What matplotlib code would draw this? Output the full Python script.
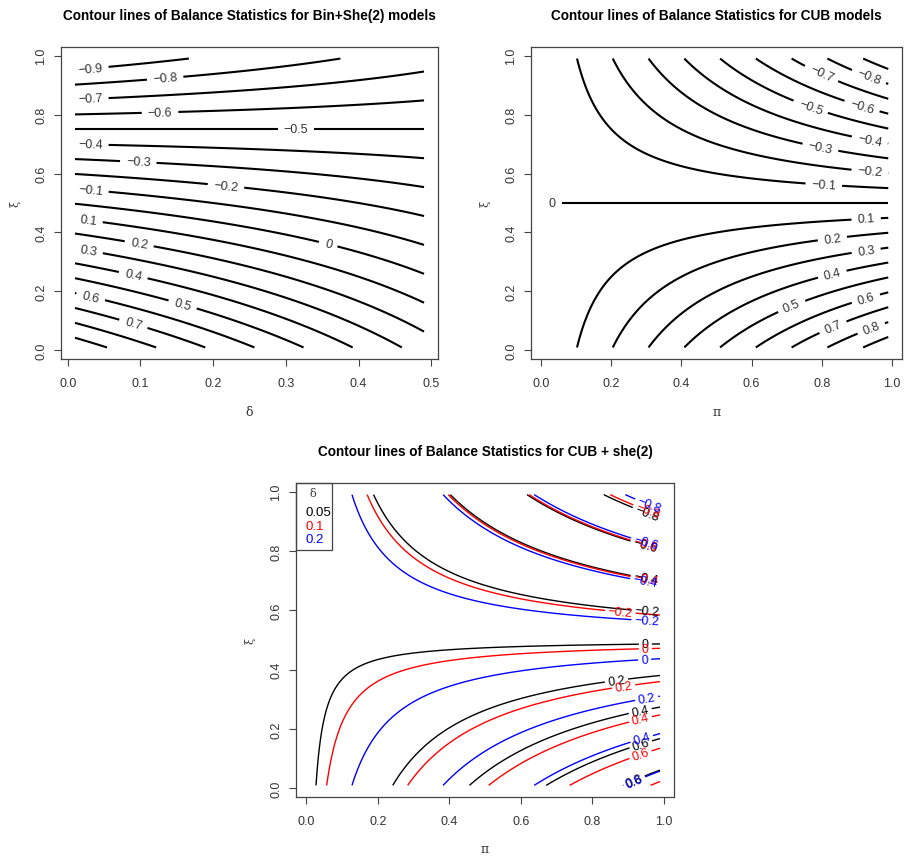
import numpy as np
import matplotlib
matplotlib.use("Agg")
import matplotlib.pyplot as plt
from matplotlib.patches import Rectangle

# ---------------- data ----------------
delta_span = [0.01, 0.49]          # shelter weight range (plot 1)
xi_span = [0.01, 0.99]             # feeling parameter range
pi_span = [0.01, 0.99]             # uncertainty parameter range
levels_all = [-0.9, -0.8, -0.7, -0.6, -0.5, -0.4, -0.3, -0.2, -0.1, 0.0,
              0.1, 0.2, 0.3, 0.4, 0.5, 0.6, 0.7, 0.8, 0.9]
levels_even = [-0.8, -0.6, -0.4, -0.2, 0.0, 0.2, 0.4, 0.6, 0.8]
shelter_deltas = [0.05, 0.1, 0.2]
shelter_colors = ["black", "red", "blue"]
shelter_balance = -0.5             # balance of the shelter category 2 (m = 5)

titles = ["Contour lines of Balance Statistics for Bin+She(2) models",
          "Contour lines of Balance Statistics for CUB models",
          "Contour lines of Balance Statistics for CUB + she(2)"]

# label positions (approximate, as placed in the reference)
lab_pos1 = [(0.031, 0.958), (0.134, 0.924), (0.031, 0.855), (0.127, 0.805),
            (0.314, 0.75), (0.031, 0.696), (0.097, 0.637), (0.2175, 0.554),
            (0.031, 0.537), (0.358, 0.359), (0.028, 0.439), (0.098, 0.357),
            (0.028, 0.331), (0.09, 0.254), (0.158, 0.155), (0.031, 0.175),
            (0.09, 0.087)]
lab_pos2 = [(0.932, 0.92), (0.80, 0.94), (0.915, 0.828), (0.768, 0.824),
            (0.937, 0.711), (0.796, 0.686), (0.937, 0.605), (0.806, 0.56),
            (0.032, 0.50), (0.927, 0.444), (0.831, 0.376), (0.927, 0.337),
            (0.831, 0.255), (0.717, 0.142), (0.927, 0.172), (0.834, 0.074),
            (0.941, 0.076)]
lab_pos3 = [
    [(0.953, 0.926), (0.949, 0.822), (0.949, 0.70), (0.953, 0.598), (0.949, 0.492),
     (0.868, 0.364), (0.935, 0.259), (0.935, 0.153), (0.916, 0.03)],
    [(0.953, 0.93), (0.949, 0.822), (0.949, 0.70), (0.879, 0.594), (0.949, 0.469),
     (0.888, 0.345), (0.935, 0.234), (0.935, 0.115)],
    [(0.953, 0.935), (0.949, 0.825), (0.949, 0.70), (0.953, 0.565), (0.947, 0.436),
     (0.953, 0.302), (0.935, 0.183), (0.916, 0.03)],
]

# ---------------- model ----------------
n_grid = 99
def balance(pi, xi, delta):
    # balance statistic of a CUB model with shelter at category 2
    return (1 - delta) * pi * (1 - 2 * xi) + delta * shelter_balance

FONT = ["Liberation Sans", "DejaVu Sans"]
plt.rcParams["font.family"] = FONT
plt.rcParams["contour.negative_linestyle"] = "solid"
TXT = "#333333"

W, H = 913, 862
fig = plt.figure(figsize=(W / 100, H / 100), dpi=100)

def make_axes(l, t, r, b):
    return fig.add_axes([l / W, 1 - b / H, (r - l) / W, (b - t) / H])

def fmt(v):
    s = f"{v:g}"
    return s.replace("-", "\u2212")

def style(ax, xmax, xlabel, title, xticks, axpx):
    axw, axh = axpx
    lo, hi = 0.01, xmax
    ext = (hi - lo) * 0.04
    ax.set_xlim(lo - ext, hi + ext)
    ax.set_ylim(0.01 - 0.0392, 0.99 + 0.0392)
    ax.set_xticks(xticks)
    ax.set_xticklabels([f"{t:.1f}" for t in xticks])
    yt = [0.0, 0.2, 0.4, 0.6, 0.8, 1.0]
    ax.set_yticks(yt)
    ax.set_yticklabels([f"{t:.1f}" for t in yt], rotation=90, va="center")
    ax.tick_params(direction="out", length=5, width=0.8, colors="#444444",
                   labelcolor=TXT, labelsize=9, pad=8)
    ax.tick_params(axis="y", pad=5)
    for sp in ax.spines.values():
        sp.set_color("#444444")
        sp.set_linewidth(0.9)
    ax.set_xlabel(xlabel, fontsize=9, color=TXT, family="DejaVu Serif", va="center")
    ax.xaxis.set_label_coords(0.5, -52 / axh)
    ax.set_ylabel("\u03be", fontsize=8, color=TXT, family="DejaVu Serif", va="center")
    ax.yaxis.set_label_coords(-46 / axw, 0.5)
    ax.text(0.5, 1 + 32 / axh, title, transform=ax.transAxes, ha="center",
            va="center", fontsize=9.8, fontweight="bold", color="black")

# ---- plot 1: Bin + She(2) ----
ax1 = make_axes(61, 48, 438, 360)
style(ax1, 0.49, "\u03b4", titles[0], [0.0, 0.1, 0.2, 0.3, 0.4, 0.5], (377, 312))
d = np.linspace(delta_span[0], delta_span[1], 49)
x = np.linspace(xi_span[0], xi_span[1], n_grid)
D, X = np.meshgrid(d, x)
Z1 = balance(1.0, X, D)
cs1 = ax1.contour(D, X, Z1, levels=levels_all, colors="black",
                  linewidths=1.5, linestyles="solid")
ax1.clabel(cs1, fmt=fmt, manual=lab_pos1, inline=True, fontsize=9,
           colors=TXT, inline_spacing=6)

# ---- plot 2: CUB ----
ax2 = make_axes(531, 48, 902, 360)
style(ax2, 0.99, "\u03c0", titles[1], [0.0, 0.2, 0.4, 0.6, 0.8, 1.0], (371, 312))
p = np.linspace(pi_span[0], pi_span[1], n_grid)
P, X2 = np.meshgrid(p, x)
Z2 = balance(P, X2, 0.0)
cs2 = ax2.contour(P, X2, Z2, levels=levels_all, colors="black",
                  linewidths=1.5, linestyles="solid")
ax2.clabel(cs2, fmt=fmt, manual=lab_pos2, inline=True, fontsize=9,
           colors=TXT, inline_spacing=6)

# ---- plot 3: CUB + she(2) ----
ax3 = make_axes(296, 484, 674, 798)
style(ax3, 0.99, "\u03c0", titles[2], [0.0, 0.2, 0.4, 0.6, 0.8, 1.0], (378, 314))
for dl, col, pos in zip(shelter_deltas, shelter_colors, lab_pos3):
    Z3 = balance(P, X2, dl)
    cs3 = ax3.contour(P, X2, Z3, levels=levels_even, colors=col,
                      linewidths=1.0, linestyles="solid")
    ax3.clabel(cs3, fmt=fmt, manual=pos, inline=True, fontsize=9,
               colors=col, inline_spacing=3)

# legend box
axw3, axh3 = 378, 314
ax3.add_patch(Rectangle((0, 1 - 67 / axh3), 36 / axw3, 67 / axh3,
                        transform=ax3.transAxes, fill=False,
                        edgecolor="#444444", linewidth=0.9, clip_on=False))
ax3.text(17 / axw3, 1 - 10 / axh3, "\u03b4", transform=ax3.transAxes,
         ha="center", va="center", fontsize=8, family="DejaVu Serif", color=TXT)
for i, (dl, col) in enumerate(zip(shelter_deltas, shelter_colors)):
    ax3.text(9 / axw3, 1 - (29 + 13.5 * i) / axh3, f"{dl:g}",
             transform=ax3.transAxes, ha="left", va="center", fontsize=9.5,
             color=col)

fig.savefig("out.png", dpi=100)
